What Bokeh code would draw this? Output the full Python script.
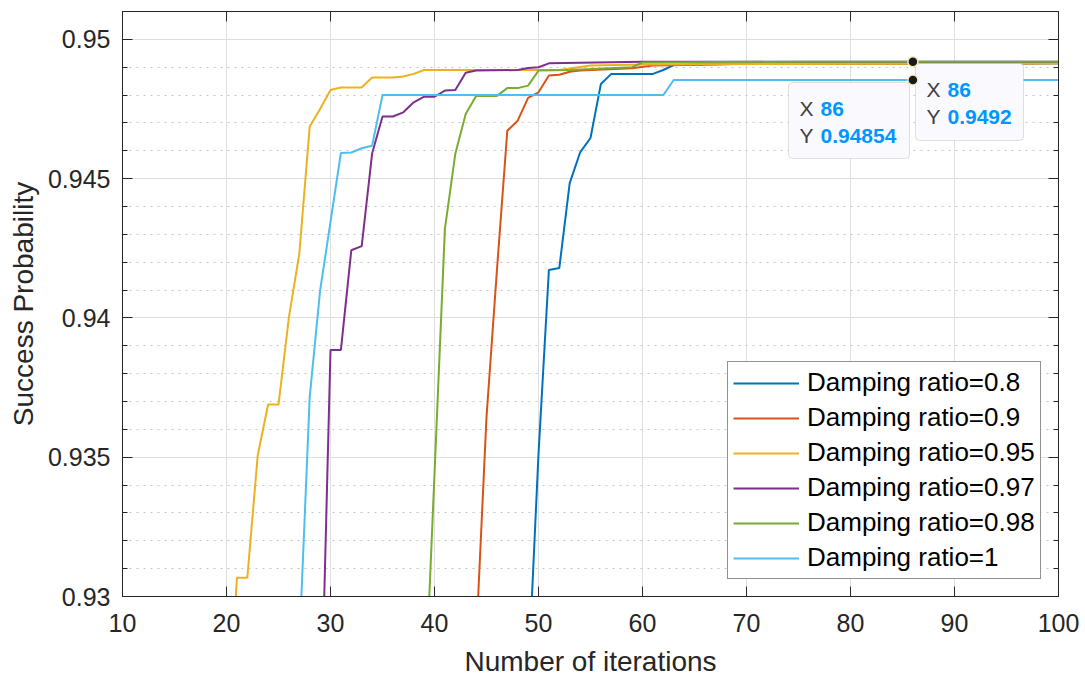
from bokeh.plotting import figure
from bokeh.models import (LinearAxis, SingleIntervalTicker, CustomJSTickFormatter,
                          Legend, LegendItem, BoxAnnotation, Range1d)
from bokeh.core.properties import value
from bokeh.embed import file_html
from bokeh.resources import INLINE

# ---------------- data ----------------
x_08 = [49, 50, 51, 52, 53, 54, 55, 56, 57, 61, 62, 63, 70, 100]
y_08 = [0.927, 0.93512, 0.94172, 0.94179, 0.94484, 0.94594, 0.94646, 0.94840,
        0.94876, 0.94876, 0.94890, 0.94908, 0.94912, 0.94914]

x_09 = [44, 45, 46, 47, 48, 49, 50, 51, 52, 53, 54, 59, 61, 64, 70, 100]
y_09 = [0.9284, 0.93644, 0.94170, 0.94672, 0.94708, 0.94790, 0.94810, 0.94870,
        0.94873, 0.94884, 0.94888, 0.94896, 0.94906, 0.94908, 0.94912, 0.94914]

x_095 = [20, 21, 22, 23, 24, 25, 26, 27, 28, 29, 30, 31, 33, 34, 36, 37, 38, 39,
         52, 55, 60, 100]
y_095 = [0.924, 0.93067, 0.93067, 0.93506, 0.93689, 0.93689, 0.94002, 0.94230,
         0.94687, 0.94750, 0.94818, 0.94827, 0.94827, 0.94863, 0.94863, 0.94867,
         0.94876, 0.94890, 0.94890, 0.94906, 0.94910, 0.94914]

x_097 = [29, 30, 31, 32, 33, 34, 35, 36, 37, 38, 39, 40, 41, 42, 43, 44, 48, 49,
         50, 51, 60, 100]
y_097 = [0.9241, 0.93885, 0.93885, 0.94243, 0.94258, 0.94590, 0.94723, 0.94723,
         0.94738, 0.94774, 0.94794, 0.94794, 0.94816, 0.94818, 0.94880, 0.94888,
         0.94890, 0.94897, 0.94900, 0.94914, 0.94920, 0.94920]

x_098 = [39, 40, 41, 42, 43, 44, 46, 47, 48, 49, 50, 53, 59, 60, 76, 100]
y_098 = [0.9256, 0.9344, 0.94320, 0.94589, 0.94732, 0.94797, 0.94797, 0.94825,
         0.94825, 0.94834, 0.94888, 0.94890, 0.94900, 0.94917, 0.94920, 0.94920]

x_1 = [27, 28, 29, 31, 32, 33, 34, 35, 62, 63, 100]
y_1 = [0.9282, 0.93716, 0.94098, 0.94592, 0.94594, 0.94609, 0.94618, 0.94800,
       0.94800, 0.94854, 0.94854]

series_labels = ["Damping ratio=0.8", "Damping ratio=0.9", "Damping ratio=0.95",
                 "Damping ratio=0.97", "Damping ratio=0.98", "Damping ratio=1"]
series_x = [x_08, x_09, x_095, x_097, x_098, x_1]
series_y = [y_08, y_09, y_095, y_097, y_098, y_1]
colors = ["#0072BD", "#D95319", "#EDB120", "#7E2F8E", "#77AC30", "#4DBEEE"]

x_ticks_interval = 10
y_ticks_interval = 0.005

tip_x = 86
tip_y_top = 0.9492
tip_y_low = 0.94854
tip_x_text = "86"
tip_y_top_text = "0.9492"
tip_y_low_text = "0.94854"

# ---------------- figure ----------------
X0, X1 = 10, 100
Y0, Y1 = 0.93, 0.951
W, H = 1085, 680
BL, BR, BT, BB = 122, 27, 11, 84
FW, FH = W - BL - BR, H - BT - BB

FONT = "Liberation Sans"
AX = "#262626"

p = figure(width=W, height=H, x_range=Range1d(X0, X1), y_range=Range1d(Y0, Y1),
           output_backend="svg", toolbar_location=None,
           min_border_left=BL, min_border_right=BR, min_border_top=BT,
           min_border_bottom=BB, x_axis_label="Number of iterations",
           y_axis_label="Success Probability")
p.background_fill_color = "white"
p.border_fill_color = "white"
p.outline_line_color = AX
p.outline_line_width = 1

xt = SingleIntervalTicker(interval=x_ticks_interval, num_minor_ticks=0)
yt = SingleIntervalTicker(interval=y_ticks_interval, num_minor_ticks=5)
fmt = CustomJSTickFormatter(code="return Number(tick.toFixed(4)).toString();")

p.xaxis.ticker = xt
p.yaxis.ticker = yt
p.yaxis.formatter = fmt

for ax in (p.xaxis[0], p.yaxis[0]):
    ax.axis_line_color = AX
    ax.major_tick_line_color = AX
    ax.minor_tick_line_color = AX
    ax.major_tick_in = 10
    ax.major_tick_out = 0
    ax.minor_tick_in = 5
    ax.minor_tick_out = 0
    ax.major_label_text_font = FONT
    ax.major_label_text_font_size = "25px"
    ax.major_label_text_color = AX
    ax.axis_label_text_font = FONT
    ax.axis_label_text_font_size = "28px"
    ax.axis_label_text_font_style = "normal"
    ax.axis_label_text_color = AX

p.xaxis.major_label_standoff = 17
p.xaxis.axis_label_standoff = 11
p.yaxis.major_label_standoff = 12
p.yaxis.axis_label_standoff = 6

top_axis = LinearAxis(ticker=SingleIntervalTicker(interval=x_ticks_interval, num_minor_ticks=0))
right_axis = LinearAxis(ticker=SingleIntervalTicker(interval=y_ticks_interval, num_minor_ticks=5))
for ax in (top_axis, right_axis):
    ax.axis_line_color = AX
    ax.major_tick_line_color = AX
    ax.minor_tick_line_color = AX
    ax.major_tick_in = 10
    ax.major_tick_out = 0
    ax.minor_tick_in = 5
    ax.minor_tick_out = 0
    ax.major_label_text_font_size = "0px"
    ax.major_label_standoff = 0
    ax.major_label_text_color = None
p.add_layout(top_axis, "above")
p.add_layout(right_axis, "right")

# grids
p.xgrid.grid_line_color = "#dedede"
p.xgrid.grid_line_width = 1
p.ygrid.grid_line_color = "#dedede"
p.ygrid.grid_line_width = 1
p.ygrid.minor_grid_line_color = "#c4c4c4"
p.ygrid.minor_grid_line_dash = "2 5"
p.ygrid.minor_grid_line_width = 1

items = []
for xs, ys, c, lab in zip(series_x, series_y, colors, series_labels):
    r = p.line(xs, ys, line_color=c, line_width=2)
    items.append(LegendItem(label=lab, renderers=[r]))

legend = Legend(items=items, location=(605, 17))
legend.label_text_font = FONT
legend.label_text_font_size = "26px"
legend.label_text_color = "#000000"
legend.glyph_width = 66
legend.glyph_height = 30
legend.label_height = 30
legend.label_standoff = 8
legend.spacing = 4
legend.padding = 5
legend.margin = 0
legend.border_line_color = AX
legend.border_line_width = 1
legend.background_fill_color = "white"
legend.background_fill_alpha = 1
p.add_layout(legend, "center")


def px_x(px):
    return X0 + (px - BL) / FW * (X1 - X0)


def px_y(py):
    return Y1 - (py - BT) / FH * (Y1 - Y0)


# datatip boxes
for (l, r, t, b) in [(788, 909, 82, 158), (915, 1023, 63, 140)]:
    box = BoxAnnotation(left=px_x(l), right=px_x(r), top=px_y(t), bottom=px_y(b),
                        fill_color="#fafafe", fill_alpha=1, line_color="#9a9a9a",
                        line_width=1, border_radius=4)
    p.add_layout(box)

# datatip markers
dots = p.scatter([tip_x, tip_x], [tip_y_top, tip_y_low], size=10, fill_color="#1a1a1a",
                 line_color="#f3eeb8", line_width=1.5)
dots.level = "overlay"

# datatip texts
lab_x = [px_x(799), px_x(799), px_x(926), px_x(926)]
lab_y = [px_y(108), px_y(135), px_y(89), px_y(116)]
t1 = p.text(x=lab_x, y=lab_y, text=["X", "Y", "X", "Y"], text_font=value(FONT),
            text_font_size="21px", text_color="#404040", text_baseline="middle",
            text_align="left")
t1.level = "overlay"
val_x = [px_x(820), px_x(820), px_x(947), px_x(947)]
t2 = p.text(x=val_x, y=lab_y, text=[tip_x_text, tip_y_low_text, tip_x_text, tip_y_top_text],
            text_font=value(FONT), text_font_size="21px", text_font_style="bold",
            text_color="#0096ff", text_baseline="middle", text_align="left")
t2.level = "overlay"

open("out.html", "w").write(file_html(p, INLINE))
